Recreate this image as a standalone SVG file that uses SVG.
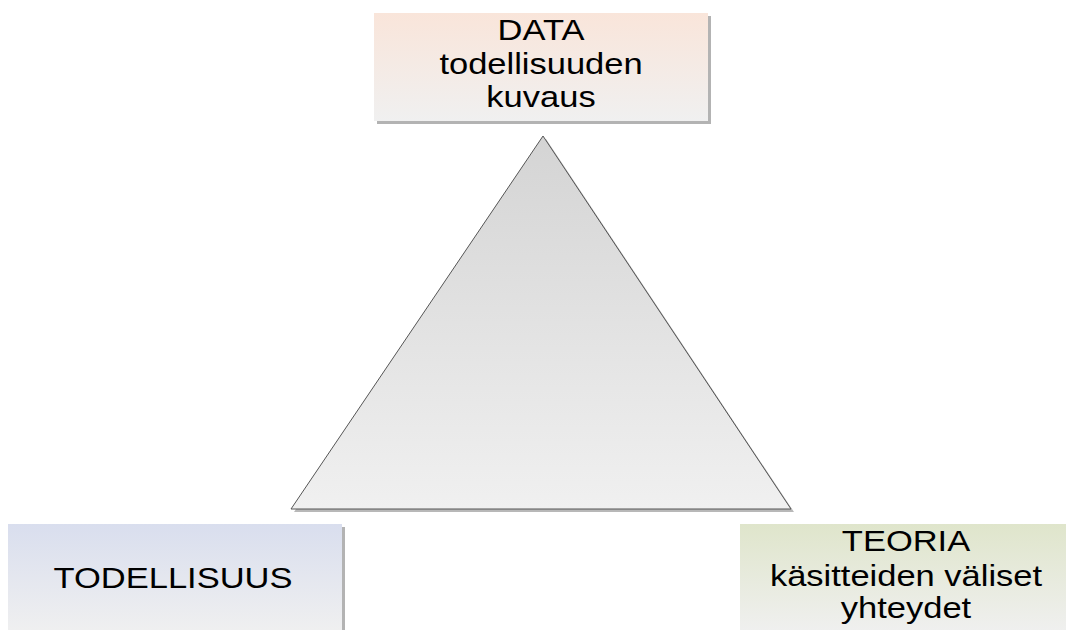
<svg xmlns="http://www.w3.org/2000/svg" width="1066" height="630" viewBox="0 0 1066 630">
<defs>
<linearGradient id="gData" x1="0" y1="0" x2="0" y2="1"><stop offset="0" stop-color="#f9e5da"/><stop offset="1" stop-color="#f0f0f0"/></linearGradient>
<linearGradient id="gTod" x1="0" y1="0" x2="0" y2="1"><stop offset="0" stop-color="#d9deee"/><stop offset="1" stop-color="#f0f0f0"/></linearGradient>
<linearGradient id="gTeo" x1="0" y1="0" x2="0" y2="1"><stop offset="0" stop-color="#dfe5cb"/><stop offset="1" stop-color="#f0f0f0"/></linearGradient>
<linearGradient id="gTri" x1="0" y1="0" x2="0" y2="1"><stop offset="0" stop-color="#d4d4d4"/><stop offset="1" stop-color="#f0f0f0"/></linearGradient>
</defs>
<style>
.shadow{fill:#b3b3b3}
.lbl{font-family:"Liberation Sans",Arial,sans-serif;font-size:30px;fill:#000;text-anchor:middle}
</style>
<rect width="1066" height="630" fill="#fff"/>
<g id="triangle">
<polygon points="546,139 294,512 794,512" fill="#b8b8b8"/>
<polygon points="543,136 291,509 791,509" fill="url(#gTri)" stroke="#555" stroke-width="1"/>
</g>
<g id="data">
<rect x="377" y="16" width="334" height="108" class="shadow"/>
<rect x="374" y="13" width="334" height="108" fill="url(#gData)"/>
<g transform="translate(541,0) scale(1.15,1)">
<text class="lbl" x="0" y="40">DATA</text>
<text class="lbl" x="0" y="74">todellisuuden</text>
<text class="lbl" x="0" y="107">kuvaus</text>
</g>
</g>
<g id="todellisuus">
<rect x="11" y="527" width="334" height="110" class="shadow"/>
<rect x="8" y="524" width="334" height="110" fill="url(#gTod)"/>
<g transform="translate(173,0) scale(1.15,1)">
<text class="lbl" x="0" y="588">TODELLISUUS</text>
</g>
</g>
<g id="teoria">
<rect x="743" y="527" width="330" height="110" class="shadow"/>
<rect x="740" y="524" width="330" height="110" fill="url(#gTeo)"/>
<g transform="translate(906,0) scale(1.15,1)">
<text class="lbl" x="0" y="551">TEORIA</text>
<text class="lbl" x="0" y="586">käsitteiden väliset</text>
<text class="lbl" x="0" y="618">yhteydet</text>
</g>
</g>
<g id="connectors"/>
</svg>
